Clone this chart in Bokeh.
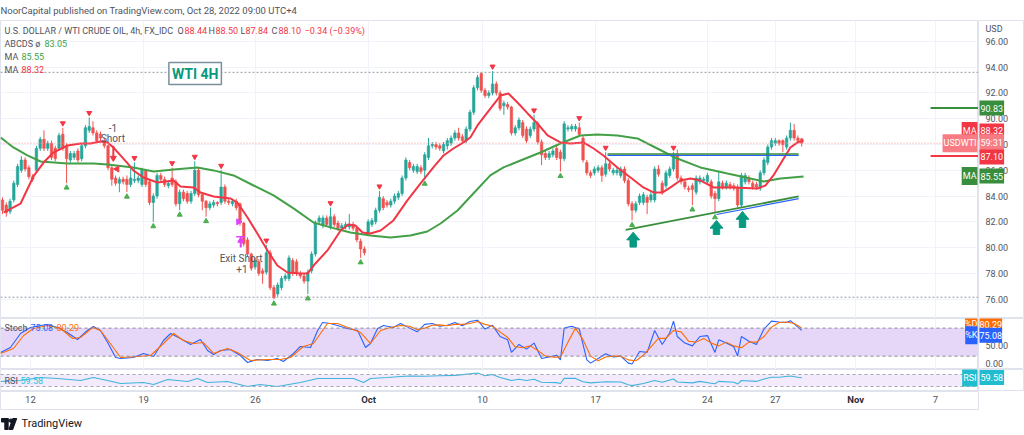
from bokeh.plotting import figure
from bokeh.layouts import column, row
from bokeh.models import (Range1d, FixedTicker, Label, Span, BoxAnnotation,
                          ColumnDataSource)
from bokeh.core.properties import value
from bokeh.embed import file_html
from bokeh.resources import INLINE

# ---------------- data ----------------
X_TICKS = [7.4, 37.4, 67.1, 97.1, 127.3, 157.3, 187.0, 205.0, 226.3, 247.5]
X_LABELS = ["12", "19", "26", "Oct", "10", "17", "24", "27", "Nov", "7"]
BOLD_LABELS = ["Oct", "Nov"]
PRICE_TICKS = [76, 78, 80, 82, 84, 86, 88, 90, 92, 94, 96]
STOCH_TICKS = [0, 50]

OPEN = [83.7, 83.3, 82.8, 83.7, 84.9, 86.0, 86.8, 86.2, 85.5, 86.0,
        87.7, 88.4, 87.7, 88.1, 87.7, 87.7, 88.8, 87.9, 86.8, 87.0,
        87.5, 86.9, 87.9, 89.1, 89.3, 88.9, 88.8, 88.3, 87.9, 86.2,
        85.4, 85.0, 85.3, 85.3, 84.9, 85.2, 85.2, 84.9, 86.0, 85.1,
        83.5, 84.0, 85.6, 85.3, 84.8, 85.4, 85.1, 83.4, 84.3, 84.2,
        83.6, 84.2, 86.0, 84.1, 83.6, 83.1, 83.3, 83.5, 83.5, 84.7,
        83.6, 83.4, 83.6, 83.4, 81.9, 80.6, 79.5, 78.5, 78.9, 78.2,
        78.1, 79.6, 76.9, 76.4, 76.9, 77.6, 77.6, 79.0, 78.9, 78.0,
        77.8, 77.4, 78.2, 79.5, 82.0, 81.7, 82.3, 81.6, 82.4, 81.9,
        81.5, 81.6, 81.6, 81.8, 81.5, 80.5, 79.9, 81.1, 81.8, 82.0,
        82.9, 83.8, 83.5, 83.3, 83.6, 83.9, 84.2, 85.4, 86.6, 86.0,
        85.9, 86.2, 86.0, 87.0, 87.9, 88.0, 87.9, 87.5, 87.9, 88.1,
        88.5, 88.9, 88.6, 88.3, 89.2, 90.5, 92.4, 93.5, 92.2, 91.8,
        92.0, 92.7, 92.0, 91.0, 91.1, 90.9, 88.9, 89.3, 89.7, 89.2,
        88.7, 89.2, 89.6, 88.2, 87.3, 87.0, 87.2, 87.7, 87.4, 86.9,
        89.2, 89.2, 89.2, 89.3, 88.5, 86.6, 85.8, 85.8, 86.0, 86.2,
        85.7, 86.5, 85.8, 85.8, 85.6, 86.1, 85.2, 83.4, 82.9, 83.5,
        83.5, 83.9, 83.7, 83.7, 86.1, 85.0, 84.8, 85.6, 86.1, 87.2,
        85.4, 85.1, 84.6, 84.8, 84.3, 85.1, 85.2, 85.1, 85.1, 84.2,
        83.8, 85.0, 84.7, 84.9, 84.8, 84.7, 83.3, 85.1, 85.4, 85.0,
        84.9, 84.6, 85.8, 86.6, 87.8, 88.1, 88.3, 88.3, 87.8, 88.5,
        89.1, 88.5, 88.44]
HIGH = [83.9, 83.5, 83.8, 85.2, 86.5, 87.1, 87.0, 86.4, 85.7, 87.9,
        88.6, 89.1, 88.3, 88.3, 87.9, 88.9, 89.3, 88.1, 87.5, 87.5,
        87.7, 88.1, 89.5, 90.1, 89.8, 89.1, 89.0, 88.5, 88.0, 86.4,
        85.6, 85.5, 85.5, 85.6, 86.2, 86.6, 85.6, 86.2, 86.1, 85.3,
        84.2, 85.8, 85.8, 85.5, 85.2, 86.2, 85.3, 84.5, 84.5, 84.4,
        84.4, 86.7, 86.2, 84.3, 83.7, 83.6, 83.7, 83.6, 86.0, 84.9,
        83.8, 83.8, 83.8, 83.5, 82.0, 80.8, 79.6, 79.2, 79.1, 78.4,
        80.2, 79.8, 77.1, 77.3, 77.8, 78.0, 79.4, 79.2, 79.1, 78.2,
        78.0, 78.3, 79.7, 82.1, 82.5, 82.5, 82.5, 83.1, 82.6, 82.1,
        81.9, 82.0, 82.6, 82.0, 81.6, 80.7, 80.1, 82.2, 82.3, 83.1,
        84.4, 84.0, 83.7, 83.8, 84.2, 84.4, 85.6, 87.0, 86.8, 86.5,
        86.5, 86.4, 87.4, 88.5, 88.2, 88.2, 88.1, 88.2, 88.5, 88.7,
        89.1, 89.3, 88.8, 89.4, 90.7, 92.6, 93.4, 93.6, 92.4, 92.2,
        93.7, 92.9, 92.2, 91.4, 91.3, 91.0, 89.5, 90.1, 89.9, 89.4,
        89.4, 90.3, 89.8, 88.4, 87.5, 87.5, 87.7, 87.9, 87.6, 89.8,
        89.5, 89.6, 89.6, 89.7, 88.7, 86.8, 86.0, 86.3, 86.4, 86.4,
        87.4, 86.7, 86.2, 86.2, 86.3, 86.3, 85.4, 83.6, 83.6, 84.2,
        84.3, 84.1, 84.3, 86.3, 86.4, 85.2, 86.0, 86.3, 87.4, 87.6,
        85.6, 85.3, 84.8, 85.0, 85.6, 85.6, 85.5, 85.8, 85.3, 84.4,
        85.9, 85.2, 85.2, 85.1, 85.0, 84.9, 85.8, 85.8, 85.6, 85.2,
        85.1, 86.0, 87.0, 88.0, 88.5, 88.5, 88.4, 88.4, 88.7, 89.7,
        89.6, 88.7, 88.50]
LOW = [82.6, 82.4, 82.6, 83.5, 84.7, 85.8, 85.9, 85.3, 85.1, 85.8,
       87.5, 87.5, 87.5, 86.8, 86.7, 87.5, 87.5, 85.0, 86.6, 86.8,
       86.6, 86.7, 87.7, 88.9, 88.7, 88.1, 88.3, 87.7, 86.0, 84.8,
       84.8, 84.3, 84.9, 84.3, 84.7, 85.0, 85.0, 84.7, 84.7, 83.3,
       82.0, 83.8, 85.1, 84.7, 84.6, 84.7, 83.2, 82.9, 83.6, 83.4,
       83.4, 84.0, 83.9, 82.9, 82.4, 82.9, 83.1, 83.2, 83.3, 83.4,
       83.3, 83.2, 82.9, 81.7, 80.1, 79.3, 78.2, 78.3, 77.8, 77.2,
       77.9, 76.7, 76.0, 76.2, 76.7, 77.4, 77.4, 77.8, 77.8, 77.6,
       77.2, 76.4, 78.0, 79.3, 81.8, 81.5, 81.6, 81.4, 81.6, 81.3,
       81.3, 81.4, 81.4, 81.3, 80.4, 79.2, 79.4, 80.9, 81.6, 81.8,
       82.7, 82.9, 83.1, 83.1, 83.4, 83.7, 84.0, 85.2, 86.0, 85.8,
       85.7, 85.7, 85.3, 86.8, 87.7, 87.6, 87.5, 87.3, 87.6, 87.9,
       88.3, 88.3, 88.1, 88.1, 89.0, 90.3, 92.2, 92.0, 91.6, 91.6,
       91.8, 91.8, 90.6, 90.3, 90.7, 88.7, 88.7, 89.1, 88.5, 88.1,
       88.5, 89.0, 88.0, 86.4, 86.8, 86.8, 87.0, 86.8, 85.9, 86.7,
       89.0, 89.0, 89.0, 88.6, 86.6, 85.6, 85.4, 85.6, 85.8, 85.1,
       85.5, 85.9, 85.6, 85.6, 85.4, 85.0, 83.2, 82.1, 82.7, 83.3,
       83.3, 82.6, 83.5, 83.5, 85.5, 84.1, 84.6, 85.4, 85.9, 85.2,
       84.9, 84.5, 84.3, 83.3, 84.1, 84.9, 85.0, 84.9, 83.8, 82.7,
       83.6, 84.5, 84.5, 84.5, 84.4, 83.1, 83.1, 84.9, 84.9, 84.5,
       84.5, 84.4, 85.6, 86.4, 87.6, 87.9, 87.9, 87.4, 87.6, 88.3,
       88.3, 88.1, 87.84]
CLOSE = [82.9, 82.7, 83.6, 85.0, 86.3, 86.8, 86.1, 85.5, 85.3, 87.7,
         88.4, 87.7, 88.1, 87.0, 86.9, 88.7, 87.7, 86.9, 87.3, 87.3,
         86.8, 87.9, 89.3, 89.4, 88.9, 88.3, 88.5, 87.9, 86.2, 85.3,
         85.0, 85.3, 85.1, 84.9, 85.4, 85.3, 85.4, 86.0, 84.9, 83.5,
         84.0, 85.6, 85.3, 84.9, 85.0, 84.9, 83.4, 84.3, 83.8, 83.6,
         84.2, 86.0, 84.1, 83.6, 83.1, 83.4, 83.5, 83.4, 84.7, 83.6,
         83.5, 83.6, 83.1, 81.9, 80.3, 79.5, 78.4, 79.0, 78.0, 78.0,
         79.6, 76.9, 76.1, 77.1, 77.6, 77.8, 79.2, 78.0, 78.0, 77.8,
         77.4, 78.1, 79.5, 81.9, 82.3, 82.3, 81.8, 82.4, 81.8, 81.5,
         81.7, 81.8, 81.8, 81.5, 80.6, 79.9, 79.6, 82.0, 82.1, 82.9,
         83.9, 83.1, 83.3, 83.6, 84.0, 84.2, 85.4, 86.8, 86.2, 86.3,
         86.3, 85.9, 87.2, 87.9, 88.0, 87.8, 87.7, 88.0, 88.3, 88.5,
         88.9, 88.5, 88.3, 89.2, 90.5, 92.4, 93.2, 92.2, 91.8, 92.0,
         92.7, 92.0, 90.8, 91.2, 90.9, 88.9, 89.3, 89.9, 88.7, 88.3,
         89.2, 89.7, 88.2, 87.2, 87.0, 87.3, 87.5, 87.0, 86.9, 89.6,
         89.3, 89.4, 89.4, 88.8, 86.8, 85.8, 85.6, 86.1, 86.2, 85.6,
         86.5, 86.1, 86.0, 86.0, 86.1, 85.2, 83.4, 82.9, 83.4, 84.0,
         84.1, 83.5, 84.1, 86.1, 85.7, 84.3, 85.8, 86.1, 87.2, 85.4,
         85.1, 84.7, 84.5, 84.5, 85.4, 85.4, 85.3, 85.6, 84.0, 83.8,
         85.1, 84.7, 85.0, 84.7, 84.6, 83.3, 85.6, 85.6, 85.1, 84.7,
         84.7, 85.8, 86.8, 87.8, 88.3, 88.3, 88.1, 88.0, 88.5, 89.1,
         88.5, 88.3, 88.10]

MA_FAST = [(0.3, 82.73), (4.8, 83.42), (8.2, 85.52), (10.9, 86.60), (13.5, 87.38),
           (17.2, 87.92), (20.7, 88.08), (23.3, 88.08), (26.0, 88.23), (27.9, 88.15),
           (29.4, 87.77), (31.3, 87.15), (33.2, 86.53), (34.7, 85.99), (37.4, 85.44),
           (41.1, 85.05), (45.4, 85.21), (47.2, 84.74), (50.7, 84.67), (52.5, 84.28),
           (56.0, 83.97), (60.5, 83.81), (62.3, 83.50), (65.0, 82.34), (67.6, 81.10),
           (70.3, 79.78), (72.9, 78.61), (75.6, 78.07), (79.0, 77.99), (80.9, 77.99),
           (83.0, 78.77), (86.2, 79.78), (89.7, 81.33), (91.8, 81.80), (93.6, 81.72),
           (95.5, 81.17), (97.6, 81.10), (100.3, 81.33), (103.7, 82.11), (107.4, 83.66),
           (110.9, 84.98), (114.3, 86.22), (117.0, 87.15), (119.6, 87.69), (122.3, 88.16),
           (124.1, 88.54), (126.0, 89.48), (128.6, 90.48), (132.1, 91.80), (134.2, 91.96),
           (136.6, 91.26), (139.3, 90.41), (141.9, 89.63), (144.6, 88.70), (148.0, 88.16),
           (150.7, 88.08), (154.1, 88.16), (156.8, 87.69), (159.4, 87.15), (163.1, 86.22),
           (166.6, 85.44), (170.0, 84.67), (172.7, 84.28), (175.1, 84.28), (177.2, 84.67),
           (179.8, 85.21), (182.5, 85.36), (185.1, 85.21), (188.6, 84.67), (193.9, 84.67),
           (200.3, 84.59), (202.4, 84.82), (204.5, 85.60), (206.9, 86.76), (209.0, 87.77),
           (210.9, 88.16), (212.5, 88.32)]
MA_SLOW = [(-0.5, 88.54), (2.9, 87.77), (6.6, 87.15), (10.1, 86.68), (17.2, 86.53),
           (24.1, 86.53), (27.9, 86.45), (34.7, 86.22), (40.1, 85.91), (45.4, 86.06),
           (51.7, 86.22), (56.0, 85.99), (61.3, 85.60), (66.6, 84.82), (71.9, 84.05),
           (77.2, 83.04), (82.5, 81.95), (87.0, 81.57), (92.3, 81.17), (97.6, 80.94),
           (102.9, 80.79), (108.2, 80.94), (112.7, 81.25), (116.2, 81.87), (120.7, 82.88),
           (124.9, 84.20), (129.4, 85.60), (132.9, 86.22), (137.4, 86.76), (142.7, 87.38),
           (148.0, 88.08), (153.3, 88.70), (157.8, 88.78), (163.1, 88.70), (168.4, 88.47),
           (173.7, 87.69), (179.0, 86.91), (185.1, 86.22), (192.3, 85.75), (198.4, 85.36),
           (201.9, 85.13), (206.4, 85.36), (212.5, 85.52)]

PIVOT_HIGH_BARS = [16, 23, 35, 45, 51, 58, 70, 87, 100, 130, 141, 153, 160, 178]
PIVOT_LOW_BARS = [17, 33, 40, 47, 54, 72, 81, 95, 112, 148, 167, 183, 189]

STOCH_K = [(-0.5, 27.8), (2.1, 38.5), (4.8, 68.5), (7.4, 81.3), (10.1, 85.6), (11.9, 87.7),
           (14.6, 81.3), (17.2, 70.6), (19.9, 55.6), (22.5, 74.9), (24.1, 83.5), (26.0, 74.9),
           (27.9, 49.2), (30.0, 17.1), (31.3, 15.0), (34.7, 17.1), (37.4, 25.7), (40.1, 19.3),
           (42.7, 53.5), (44.6, 68.5), (47.2, 57.8), (49.9, 44.9), (52.5, 55.6), (54.4, 32.1),
           (56.0, 23.5), (57.8, 32.1), (60.5, 34.2), (63.1, 21.4), (65.0, 6.4), (67.6, 12.8),
           (70.3, 10.7), (72.9, 15.0), (74.5, 8.6), (77.2, 25.7), (79.0, 40.7), (81.7, 38.5),
           (83.6, 74.9), (84.9, 92.0), (87.0, 89.9), (91.5, 79.2), (94.2, 74.9), (96.3, 38.5),
           (97.6, 47.1), (99.5, 79.2), (101.1, 85.6), (103.7, 81.3), (105.6, 89.9), (108, 80),
           (110, 72), (112, 88), (114, 90), (116, 84), (118, 86), (120, 92), (122, 85),
           (124, 94), (126, 97), (128, 78), (130, 86), (132, 62), (134, 55), (135, 28),
           (137, 45), (139, 35), (141, 48), (143, 15), (145, 18), (147, 22), (148, 12),
           (149, 80), (151, 84), (153, 78), (155, 12), (156, 5), (158, 15), (160, 25),
           (162, 18), (164, 20), (166, 5), (167, 3), (169, 30), (171, 28), (173, 75),
           (175, 45), (177, 70), (178, 95), (179, 62), (181, 48), (183, 42), (185, 62),
           (187, 64), (189, 28), (190, 55), (192, 48), (194, 40), (195, 20), (196, 62),
           (198, 52), (200, 45), (202, 78), (204, 95), (206, 93), (208, 92), (209, 96),
           (211, 82), (212, 75.08)]
STOCH_D = [(-0.5, 25.7), (2.9, 36.4), (5.6, 64.2), (8.2, 79.2), (11.9, 85.6), (15.4, 79.2),
           (18.6, 57.8), (20.7, 59.9), (23.9, 81.3), (26.0, 74.9), (28.6, 47.1), (31.3, 17.1),
           (35.8, 19.3), (39.3, 21.4), (42.7, 47.1), (45.4, 68.5), (48.0, 53.5), (50.7, 47.1),
           (53.3, 49.2), (56.0, 25.7), (59.7, 36.4), (62.3, 27.8), (65.8, 10.7), (70.3, 12.8),
           (73.7, 12.8), (76.4, 17.1), (79.8, 40.7), (82.5, 47.1), (86.2, 89.9), (88.9, 89.9),
           (92.3, 79.2), (95.0, 70.6), (97.6, 47.1), (100.3, 74.9), (102.9, 81.3), (105.6, 85.6),
           (108, 84), (110, 77), (112, 80), (114, 86), (116, 87), (118, 85), (120, 88),
           (122, 88), (124, 90), (126, 94), (128, 88), (130, 84), (132, 72), (134, 60),
           (136, 40), (138, 38), (140, 42), (142, 32), (144, 20), (146, 18), (148, 18),
           (150, 50), (152, 80), (154, 55), (156, 20), (158, 10), (160, 18), (162, 20),
           (164, 20), (166, 12), (168, 10), (170, 22), (172, 40), (174, 58), (176, 58),
           (178, 75), (180, 72), (182, 52), (184, 50), (186, 58), (188, 48), (190, 42),
           (192, 50), (194, 42), (196, 38), (198, 50), (200, 50), (202, 62), (204, 82),
           (206, 92), (208, 93), (210, 90), (212, 80.29)]
RSI = [(-0.5, 46.7), (4.8, 50), (10.1, 60), (14.6, 56.7), (20.7, 50), (24.1, 60), (27.9, 50),
       (31.3, 40), (37.4, 43.3), (40.1, 36.7), (43.8, 53.3), (49.1, 46.7), (51.7, 56.7),
       (54.4, 43.3), (59.7, 46.7), (65.0, 30), (68.4, 36.7), (72.9, 30), (79.0, 43.3),
       (83.6, 56.7), (87.8, 56.7), (93.1, 56.7), (95.8, 43.3), (97.6, 56.7), (102.1, 60),
       (105.6, 63.3), (108, 65), (112, 64), (116, 66), (120, 67), (124, 72), (126, 75),
       (128, 66), (130, 70), (132, 60), (135, 50), (137, 54), (139, 50), (141, 54),
       (143, 44), (147, 43), (148, 40), (149, 57), (152, 57), (154, 46), (156, 42),
       (160, 46), (164, 45), (166, 36), (167, 33), (170, 40), (173, 50), (175, 44),
       (178, 55), (179, 45), (183, 42), (185, 47), (188, 41), (189, 39), (190, 47),
       (194, 44), (195, 38), (196, 50), (200, 47), (202, 55), (204, 61), (206, 61),
       (209, 65), (211, 61), (212, 59.58)]

STOCH_BAND = [20, 80]
RSI_BAND = [30, 70]
LAST = {"open": 88.44, "high": 88.50, "low": 87.84, "close": 88.10,
        "chg": "\u22120.34 (\u22120.39%)"}
ABCDS_VALUE = 83.05
MA_SLOW_VALUE = 85.55
MA_FAST_VALUE = 88.32
STOCH_K_VALUE = 75.08
STOCH_D_VALUE = 80.29
RSI_VALUE = 59.58

# drawings
RESIST_X = [160.5, 211.2]; RESIST_Y = [87.24, 87.24]
SUPPORT_X = [165.3, 211.2]; SUPPORT_Y = [81.38, 83.97]
SUPPORT_B_X = [189.4, 211.2]; SUPPORT_B_Y = [82.66, 83.89]
RAY_START = 246.2
RAY_LEVELS = [90.83, 87.10]
ARROW_X = [167.3, 189.4, 196.3]
ARROW_TOP = [81.20, 82.11, 82.80]
ARROW_BOTTOM = [80.04, 81.02, 81.56]
SHORT_BAR = 29.4
EXIT_BAR = 63.2

# ---------------- style ----------------
FONT = "Roboto"
TXT = "#50535e"
GRID = "#f0f3fa"
SEP = "#e0e3eb"
UP = "#26a69a"
DN = "#ef5350"
RED = "#f23645"
GREEN = "#43a047"
DGREEN = "#388e3c"
ARROW_C = "#089981"
MAGENTA = "#e040fb"

W = 1024
RB = 46
FW = W - RB
N = len(CLOSE)
xr = Range1d(-0.53, 258.9)


def clean(p):
    p.background_fill_color = "white"
    p.border_fill_color = "white"
    return p


def pane(h, y0, y1):
    yr = Range1d(y0, y1)
    p = figure(width=FW, height=h, x_range=xr, y_range=yr,
               output_backend="svg", toolbar_location=None,
               x_axis_location=None, y_axis_location=None, min_border=0)
    clean(p)
    p.outline_line_color = SEP
    p.xgrid.ticker = FixedTicker(ticks=X_TICKS)
    p.xgrid.grid_line_color = GRID
    p.ygrid.grid_line_color = None
    a = figure(width=RB, height=h, x_range=Range1d(0, RB), y_range=yr,
               output_backend="svg", toolbar_location=None,
               x_axis_location=None, y_axis_location=None, min_border=0)
    clean(a)
    a.grid.visible = False
    a.outline_line_color = SEP
    return p, a


def txt(p, x, y, text, color=TXT, size="9px", style="normal", align="left",
        xu="screen", yu="screen", **kw):
    p.add_layout(Label(x=x, y=y, x_units=xu, y_units=yu, text=text,
                       text_font=FONT, text_font_size=size, text_color=color,
                       text_font_style=style, text_align=align,
                       text_baseline="middle", **kw))


def tag_right(a, y, text, bg, fg="white", pad=(1, 4)):
    a.add_layout(Label(x=1, y=y, text=text, text_font=FONT, text_font_size="9px",
                       text_color=fg, text_align="left", text_baseline="middle",
                       background_fill_color=bg, padding=pad))


def tag_left(p, y, text, bg, fg="white", pad=(1, 4)):
    p.add_layout(Label(x=FW - 1, y=y, x_units="screen", text=text, text_font=FONT,
                       text_font_size="9px", text_color=fg, text_align="right",
                       text_baseline="middle", background_fill_color=bg,
                       padding=pad))


def axis_labels(a, ticks, offsets=None):
    a.text(x=[7] * len(ticks), y=ticks, text=[f"{t:.2f}" for t in ticks],
           text_font=value(FONT), text_font_size="9px", text_color=TXT,
           text_baseline="middle", text_align="left",
           y_offset=offsets if offsets is not None else 0)


# ---------------- header ----------------
HH = 20
hd = figure(width=W, height=HH, x_range=Range1d(0, W), y_range=Range1d(0, HH),
            output_backend="svg", toolbar_location=None, x_axis_location=None,
            y_axis_location=None, min_border=0)
clean(hd)
hd.grid.visible = False
hd.outline_line_color = None
txt(hd, 0, 10, "NoorCapital published on TradingView.com, Oct 28, 2022 09:00 UTC+4",
    size="9.5px")

# ---------------- main pane ----------------
MH = 298
main, main_ax = pane(MH, 74.50, 97.62)
main.ygrid.grid_line_color = GRID
main.ygrid.ticker = FixedTicker(ticks=PRICE_TICKS)
axis_labels(main_ax, PRICE_TICKS)

idx = list(range(N))
src = ColumnDataSource(dict(
    x=idx, h=HIGH, l=LOW,
    top=[max(o, c) for o, c in zip(OPEN, CLOSE)],
    bot=[min(o, c) for o, c in zip(OPEN, CLOSE)],
    col=[UP if c >= o else DN for o, c in zip(OPEN, CLOSE)]))

main.add_layout(Span(location=max(HIGH) - 0.1, dimension="width",
                     line_color="#9598a1", line_dash="2 2", line_width=1))
main.add_layout(Span(location=min(LOW) + 0.15, dimension="width",
                     line_color="#9598a1", line_dash="2 2", line_width=1))
main.add_layout(Span(location=CLOSE[-1], dimension="width",
                     line_color="#f59aa0", line_dash="1 2", line_width=1))

main.segment(x0="x", y0="l", x1="x", y1="h", color="col", line_width=1, source=src)
main.vbar(x="x", width=0.66, top="top", bottom="bot", fill_color="col",
          line_color="col", line_width=0.6, source=src)

main.line([p[0] for p in MA_SLOW], [p[1] for p in MA_SLOW], color=GREEN, line_width=2)
main.line([p[0] for p in MA_FAST], [p[1] for p in MA_FAST], color=RED, line_width=2)

main.scatter(PIVOT_HIGH_BARS, [HIGH[i] + 0.35 for i in PIVOT_HIGH_BARS],
             marker="inverted_triangle", size=5, color=RED)
main.scatter(PIVOT_LOW_BARS, [LOW[i] - 0.35 for i in PIVOT_LOW_BARS],
             marker="triangle", size=5, color="#4caf50")

# trend lines
main.line(RESIST_X, [y - 0.09 for y in RESIST_Y], color="#2962ff", line_width=1.2)
main.line(RESIST_X, [y + 0.02 for y in RESIST_Y], color=DGREEN, line_width=1.6)
main.line(SUPPORT_B_X, [y - 0.09 for y in SUPPORT_B_Y], color="#2962ff", line_width=1.2)
main.line(SUPPORT_X, SUPPORT_Y, color=DGREEN, line_width=1.8)
main.segment(x0=[RAY_START], y0=[RAY_LEVELS[0]], x1=[xr.end], y1=[RAY_LEVELS[0]],
             color=DGREEN, line_width=2)
main.segment(x0=[RAY_START], y0=[RAY_LEVELS[1]], x1=[xr.end], y1=[RAY_LEVELS[1]],
             color=RED, line_width=2)

# arrows
AH, HW, SW = 0.6, 1.7, 0.85
axs, ays = [], []
for xc, yt, yb in zip(ARROW_X, ARROW_TOP, ARROW_BOTTOM):
    axs.append([xc - SW, xc + SW, xc + SW, xc + HW, xc, xc - HW, xc - SW])
    ays.append([yb, yb, yt - AH, yt - AH, yt, yt - AH, yt - AH])
main.patches(axs, ays, fill_color=ARROW_C, line_color=ARROW_C)

# strategy marks
main.segment(x0=[SHORT_BAR], y0=[HIGH[27] - 0.6], x1=[SHORT_BAR],
             y1=[CLOSE[28] + 0.6], color=RED, line_width=2)
main.scatter([SHORT_BAR], [CLOSE[28] + 0.75], marker="inverted_triangle", size=6, color=RED)
main.scatter([SHORT_BAR + 1.0], [CLOSE[29] + 0.8], marker="triangle", angle=1.5708,
             size=6, color=RED)
main.scatter([EXIT_BAR - 0.6], [OPEN[63] - 1.4], marker="triangle", angle=-1.5708,
             size=6, color=MAGENTA)
main.segment(x0=[EXIT_BAR], y0=[LOW[64] - 0.1], x1=[EXIT_BAR], y1=[LOW[64] + 0.55],
             color=MAGENTA, line_width=2)
main.scatter([EXIT_BAR], [LOW[64] + 0.45], marker="triangle", size=6, color=MAGENTA)
main.segment(x0=[EXIT_BAR - 1.2], y0=[LOW[64] + 0.75], x1=[EXIT_BAR + 1.2],
             y1=[LOW[64] + 0.75], color=MAGENTA, line_width=1.5)
txt(main, SHORT_BAR - 0.1, HIGH[27] + 0.75, "-1", align="center", xu="data", yu="data",
    size="10px")
txt(main, SHORT_BAR - 0.1, HIGH[27] - 0.05, "Short", align="center", xu="data", yu="data",
    size="10px")
txt(main, EXIT_BAR + 0.1, LOW[66] + 0.95, "Exit Short", align="center", xu="data",
    yu="data", size="10px")
txt(main, EXIT_BAR + 0.3, LOW[66] + 0.15, "+1", align="center", xu="data", yu="data",
    size="10px")

# WTI 4H box
main.add_layout(Label(x=51.1, y=93.5, text="WTI 4H", text_font=FONT,
                      text_font_size="14px", text_font_style="bold",
                      text_color="#089981", text_align="center",
                      text_baseline="middle", background_fill_color="white",
                      border_line_color="#78909c", border_line_width=1.5,
                      padding=3))

# legend
txt(main, 4, MH - 10, "U.S. DOLLAR / WTI CRUDE OIL, 4h, FX_IDC")
items = [(177, "O", TXT), (184, f"{LAST['open']:.2f}", RED), (208, "H", TXT),
         (215, f"{LAST['high']:.2f}", RED), (240, "L", TXT), (245, f"{LAST['low']:.2f}", RED),
         (271, "C", TXT), (278, f"{LAST['close']:.2f}", RED), (304, LAST["chg"], RED)]
for x, t, c in items:
    txt(main, x, MH - 10, t, color=c)
txt(main, 4, MH - 23, "ABCDS  \u00f8")
txt(main, 44, MH - 23, f"{ABCDS_VALUE:.2f}", color=GREEN)
txt(main, 4, MH - 36, "MA")
txt(main, 21, MH - 36, f"{MA_SLOW_VALUE:.2f}", color=GREEN)
txt(main, 4, MH - 49, "MA")
txt(main, 21, MH - 49, f"{MA_FAST_VALUE:.2f}", color=RED)
txt(main_ax, 7, MH - 8, "USD")

# price tags
tag_right(main_ax, RAY_LEVELS[0], f"{RAY_LEVELS[0]:.2f}", DGREEN)
tag_right(main_ax, 89.05, f"{MA_FAST_VALUE:.2f}", RED)
tag_left(main, 89.05, "MA", RED)
tag_right(main_ax, CLOSE[-1], "59:31", "#f77c84")
tag_left(main, CLOSE[-1], "USDWTI", "#f77c84")
tag_right(main_ax, 87.03, f"{RAY_LEVELS[1]:.2f}", RED)
tag_right(main_ax, MA_SLOW_VALUE, f"{MA_SLOW_VALUE:.2f}", DGREEN)
tag_left(main, MA_SLOW_VALUE, "MA", DGREEN)

# ---------------- stochastic ----------------
SH = 51
st, st_ax = pane(SH, -8.6, 100.6)
axis_labels(st_ax, STOCH_TICKS, offsets=[-2, 3])
st.add_layout(BoxAnnotation(bottom=STOCH_BAND[0], top=STOCH_BAND[1],
                            fill_color="#e6d6f8", fill_alpha=1, line_color=None,
                            level="underlay"))
for lv in STOCH_BAND:
    st.add_layout(Span(location=lv, dimension="width", line_color="#8a8d98",
                       line_dash="3 3", line_width=1))
st.line([p[0] for p in STOCH_K], [p[1] for p in STOCH_K], color="#2962ff", line_width=1.1)
st.line([p[0] for p in STOCH_D], [p[1] for p in STOCH_D], color="#ff6d00", line_width=1.1)
txt(st, 4, SH - 9, "Stoch")
txt(st, 30, SH - 9, f"{STOCH_K_VALUE:.2f}", color="#2962ff")
txt(st, 56, SH - 9, f"{STOCH_D_VALUE:.2f}", color="#ff6d00")
tag_right(st_ax, 88.8, f"{STOCH_D_VALUE:.2f}", "#ff6d00", pad=(0, 4))
tag_left(st, 88.8, "%D", "#ff6d00", pad=(0, 4))
tag_right(st_ax, 65.0, f"{STOCH_K_VALUE:.2f}", "#2962ff", pad=(0, 4))
tag_left(st, 65.0, "%K", "#2962ff", pad=(0, 4))

# ---------------- RSI ----------------
RH = 22
rs, rs_ax = pane(RH, 13.3, 86.7)
rs.add_layout(BoxAnnotation(bottom=RSI_BAND[0], top=RSI_BAND[1], fill_color="#f3eafc",
                            fill_alpha=1, line_color=None, level="underlay"))
for lv in RSI_BAND:
    rs.add_layout(Span(location=lv, dimension="width", line_color="#a3a6af",
                       line_dash="3 3", line_width=1))
rs.line([p[0] for p in RSI], [p[1] for p in RSI], color="#3fb4dc", line_width=1.1)
txt(rs, 4, RH - 11, "RSI")
txt(rs, 20, RH - 11, f"{RSI_VALUE:.2f}", color="#26c6da")
tag_right(rs_ax, 60.0, f"{RSI_VALUE:.2f}", "#22bcd0")
tag_left(rs, 60.0, "RSI", "#22bcd0")

# ---------------- time axis ----------------
XH = 19
tx = figure(width=W, height=XH, x_range=xr, y_range=Range1d(0, XH),
            output_backend="svg", toolbar_location=None, x_axis_location=None,
            y_axis_location=None, min_border_left=0, min_border_right=RB,
            min_border_top=0, min_border_bottom=0)
clean(tx)
tx.grid.visible = False
tx.outline_line_color = SEP
tx.text(x=X_TICKS, y=[XH - 8] * len(X_TICKS), text=X_LABELS,
        text_font=value(FONT), text_font_size="9.5px",
        text_color=["#2a2e39" if l in BOLD_LABELS else TXT for l in X_LABELS],
        text_font_style=["bold" if l in BOLD_LABELS else "normal" for l in X_LABELS],
        text_align="center", text_baseline="middle")

# ---------------- logo ----------------
LH = 25
lg = figure(width=W, height=LH, x_range=Range1d(0, W), y_range=Range1d(0, LH),
            output_backend="svg", toolbar_location=None, x_axis_location=None,
            y_axis_location=None, min_border=0)
clean(lg)
lg.grid.visible = False
lg.outline_line_color = None
lg.quad(left=[1, 4.5], right=[8, 8], bottom=[13.5, 6], top=[17, 17], color="#131722")
lg.circle(x=[10.8], y=[14.8], radius=1.8, color="#131722")
lg.patch([12.8, 17, 12.8, 8.8], [17, 17, 6, 6], color="#131722")
txt(lg, 21, 12, "TradingView", color="#131722", size="11px")

layout = column(hd, row(main, main_ax, spacing=0), row(st, st_ax, spacing=0),
                row(rs, rs_ax, spacing=0), tx, lg, spacing=0)
open("out.html", "w").write(file_html(layout, INLINE))
